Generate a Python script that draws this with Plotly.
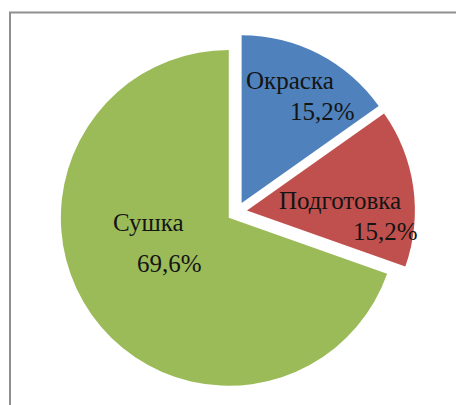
import plotly.graph_objects as go

# Data
labels = ["Окраска", "Подготовка", "Сушка"]
values = [15.2, 15.2, 69.6]
colors = ["#4F81BD", "#C0504D", "#9BBB59"]

W, H = 456, 405

# label placement (pixel centers) for name line and percent line
name_pos = [(290, 81), (340, 201), (148, 222)]
pct_pos = [(322, 111), (385, 231), (169, 263)]

fig = go.Figure()
fig.add_trace(go.Pie(
    labels=labels,
    values=values,
    sort=False,
    direction="clockwise",
    rotation=0,
    pull=[0.06, 0.06, 0.06],
    marker=dict(colors=colors, line=dict(width=0)),
    textinfo="none",
    hoverinfo="label+percent",
    showlegend=False,
    domain=dict(x=[59 / W, 415 / W], y=[1 - 390 / H, 1 - 34 / H]),
))

total = sum(values)
annotations = []
font = dict(family="Liberation Serif", size=25, color="#141414")
for lab, v, (nx, ny), (px, py) in zip(labels, values, name_pos, pct_pos):
    pct = f"{v / total * 100:.1f}".replace(".", ",") + "%"
    annotations.append(dict(text=lab, x=nx / W, y=1 - ny / H, xref="paper", yref="paper",
                            xanchor="center", yanchor="middle", showarrow=False, font=font))
    annotations.append(dict(text=pct, x=px / W, y=1 - py / H, xref="paper", yref="paper",
                            xanchor="center", yanchor="middle", showarrow=False, font=font))

fig.update_layout(
    width=W, height=H,
    margin=dict(l=0, r=0, t=0, b=0),
    paper_bgcolor="white",
    plot_bgcolor="white",
    separators=", ",
    annotations=annotations,
    shapes=[dict(type="rect", xref="paper", yref="paper",
                 x0=10 / W, x1=1.05, y0=-0.05, y1=1 - 12.5 / H,
                 line=dict(color="#8f8f8f", width=2), fillcolor="rgba(0,0,0,0)")],
)

fig.write_html("out.html")
